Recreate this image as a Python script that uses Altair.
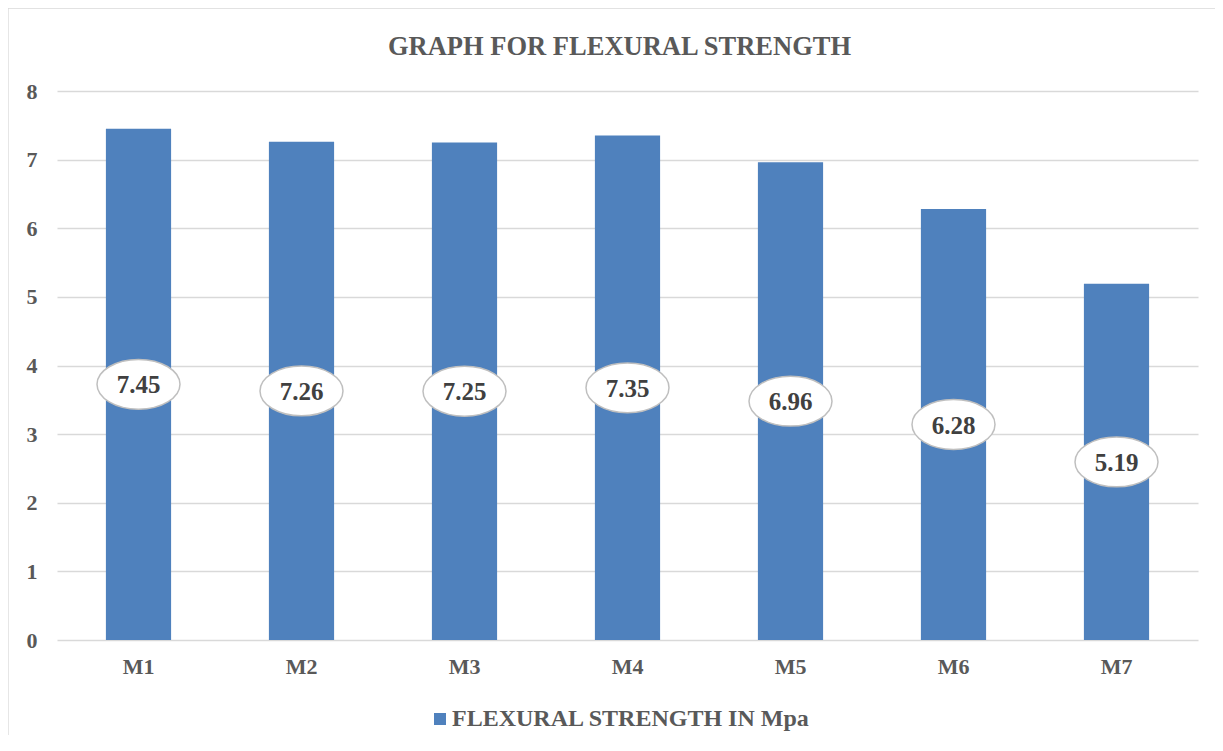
import altair as alt
import pandas as pd

categories = ["M1", "M2", "M3", "M4", "M5", "M6", "M7"]
values = [7.45, 7.26, 7.25, 7.35, 6.96, 6.28, 5.19]
series_name = "FLEXURAL STRENGTH IN Mpa"
y_ticks = [0, 1, 2, 3, 4, 5, 6, 7, 8]

df = pd.DataFrame({"cat": categories, "val": values, "series": [series_name] * len(categories)})

FONT = "Liberation Serif"
TEXT = "#595959"
W, H = 1141, 549

ellipse = ("M-1,0 C-1,-0.3314 -0.5523,-0.6 0,-0.6 C0.5523,-0.6 1,-0.3314 1,0 "
           "C1,0.3314 0.5523,0.6 0,0.6 C-0.5523,0.6 -1,0.3314 -1,0 Z")

x_enc = alt.X("cat:N", sort=categories, title=None,
              scale=alt.Scale(paddingInner=0.6, paddingOuter=0.3),
              axis=alt.Axis(labelAngle=0, labelFont=FONT, labelFontSize=22, labelFontWeight="bold",
                            labelColor=TEXT, ticks=False, domain=False, labelPadding=16, grid=False))

bars = alt.Chart(df).mark_bar(color="#4F81BD").encode(
    x=x_enc,
    y=alt.Y("val:Q", title=None, scale=alt.Scale(domain=[0, 8], nice=False),
            axis=alt.Axis(values=y_ticks, format="d", labelFont=FONT, labelFontSize=22,
                          labelFontWeight="bold", labelColor=TEXT, ticks=False, domain=False,
                          labelPadding=20, grid=True, gridColor="#D9D9D9", gridWidth=1.3)),
    color=alt.Color("series:N", scale=alt.Scale(range=["#4F81BD"]),
                    legend=alt.Legend(title=None, orient="none", legendX=371, legendY=616,
                                      symbolType="square", symbolSize=144, symbolStrokeWidth=0,
                                      labelFont=FONT, labelFontSize=24, labelFontWeight="bold",
                                      labelColor=TEXT, labelOffset=0, labelLimit=0)),
)

base = alt.Chart(df).transform_calculate(mid="datum.val / 2")

bubbles = base.mark_point(shape=ellipse, size=83 * 83, filled=True, fill="white",
                          stroke="#BFBFBF", strokeWidth=1.5, opacity=1).encode(
    x=alt.X("cat:N", sort=categories),
    y=alt.Y("mid:Q"),
)

labels = base.mark_text(font=FONT, fontSize=25, fontWeight="bold", color="#404040",
                        baseline="middle", dy=1).encode(
    x=alt.X("cat:N", sort=categories),
    y=alt.Y("mid:Q"),
    text=alt.Text("val:Q", format=".2f"),
)

border = alt.Chart(pd.DataFrame({"a": [0]})).mark_rect(
    fill=None, stroke="#D9D9D9", strokeWidth=1.3).encode(
    x=alt.value(-49), x2=alt.value(W + 200), y=alt.value(-83), y2=alt.value(H + 300))

chart = alt.layer(border, bars, bubbles, labels).properties(
    width=W, height=H,
    title=alt.TitleParams("GRAPH FOR FLEXURAL STRENGTH", font=FONT, fontSize=26.5, fontWeight="bold",
                          color=TEXT, anchor="middle", offset=-53, dx=-8),
    autosize=alt.AutoSizeParams(type="none"),
    padding={"left": 49, "top": 83, "right": 17, "bottom": 95},
).configure_view(stroke=None)

chart.save("out.html", embed_options={"renderer": "svg", "actions": False})
